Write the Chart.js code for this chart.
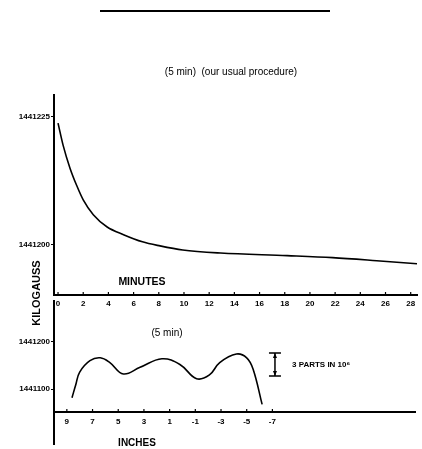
<!DOCTYPE html>
<html><head><meta charset="utf-8">
<script src="https://cdn.jsdelivr.net/npm/chart.js@4.4.1/dist/chart.umd.min.js"></script>
<style>
html,body{margin:0;padding:0;background:#fff;}
#wrap{position:relative;width:422px;height:449px;overflow:hidden;background:#fff;}
canvas{position:absolute;left:0;}
#c1{top:0;} #c2{top:295px;}
</style></head><body><div id="wrap">
<canvas id="c1" width="422" height="340"></canvas>
<canvas id="c2" width="422" height="154"></canvas>
</div>
<script>
// ---- data: field vs time (top panel) ----
const minutes = [0, 0.4, 0.95, 1.5, 2, 2.8, 3.9, 5.2, 6.7, 8.1, 9.9, 12.9, 18.2, 21.8, 25.3, 28.5];
const fieldVsTime = [1441223.8, 1441219.5, 1441215.0, 1441211.5, 1441208.8, 1441205.9, 1441203.5, 1441202.0, 1441200.6, 1441199.8, 1441199.0, 1441198.4, 1441197.9, 1441197.5, 1441196.9, 1441196.3];
const minuteTicks = [0, 2, 4, 6, 8, 10, 12, 14, 16, 18, 20, 22, 24, 26, 28];
const topYTicks = [1441200, 1441225];

// ---- data: field vs position (bottom panel) ----
const inches = [8.6, 8.3, 8.0, 7.2, 6.4, 5.65, 4.6, 3.3, 1.6, 0.2, -1.1, -2.1, -2.9, -4.2, -5.0, -5.5, -6.2];
const fieldVsPosition = [1441082, 1441110, 1441136, 1441160, 1441166, 1441156, 1441132, 1441146, 1441164, 1441152, 1441122, 1441130, 1441156, 1441174, 1441166, 1441142, 1441068];
const inchTicks = [9, 7, 5, 3, 1, -1, -3, -5, -7];
const bottomYTicks = [1441100, 1441200];
// scale marker: "3 PARTS IN 10^6"
const markerInch = -7.2;
const markerCenter = 1441152;
const markerHalfSpan = 24;

const tickFont = {family: '"Liberation Sans", Arial, sans-serif', size: 8, weight: 'bold'};
const FF = '"Liberation Sans", Arial, sans-serif';

const innerTicks = {
  id: 'innerTicks',
  afterDraw(chart) {
    const s = chart.scales.x, ctx = chart.ctx, y = chart.chartArea.bottom;
    ctx.save();
    ctx.strokeStyle = '#000'; ctx.lineWidth = 1.2;
    s.ticks.forEach(t => {
      const x = s.getPixelForValue(t.value);
      ctx.beginPath(); ctx.moveTo(x, y); ctx.lineTo(x, y - 3); ctx.stroke();
    });
    ctx.restore();
  }
};

const annotTop = {
  id: 'annotTop',
  afterDraw(chart) {
    const ctx = chart.ctx;
    ctx.save();
    ctx.strokeStyle = '#000'; ctx.lineWidth = 2;
    ctx.beginPath(); ctx.moveTo(100, 11); ctx.lineTo(330, 11); ctx.stroke();
    ctx.fillStyle = '#000';
    ctx.textAlign = 'center'; ctx.textBaseline = 'middle';
    ctx.font = '10px ' + FF;
    ctx.fillText('(5 min)  (our usual procedure)', 231, 72);
    ctx.font = 'bold 10.5px ' + FF;
    ctx.fillText('MINUTES', 142, 282);
    ctx.translate(36.5, 293);
    ctx.rotate(-Math.PI / 2);
    ctx.font = 'bold 11px ' + FF;
    ctx.fillText('KILOGAUSS', 0, 0);
    ctx.restore();
  }
};

const annotBottom = {
  id: 'annotBottom',
  afterDraw(chart) {
    const ctx = chart.ctx, ca = chart.chartArea;
    const xs = chart.scales.x, ys = chart.scales.y;
    ctx.save();
    ctx.strokeStyle = '#000'; ctx.fillStyle = '#000';
    // continue the vertical axis below the inches axis
    ctx.lineWidth = 2;
    ctx.beginPath(); ctx.moveTo(ca.left, ca.bottom); ctx.lineTo(ca.left, 150); ctx.stroke();
    // scale marker
    const mx = xs.getPixelForValue(markerInch);
    const y1 = ys.getPixelForValue(markerCenter + markerHalfSpan);
    const y2 = ys.getPixelForValue(markerCenter - markerHalfSpan);
    ctx.lineWidth = 1.5;
    ctx.beginPath();
    ctx.moveTo(mx - 6, y1); ctx.lineTo(mx + 6, y1);
    ctx.moveTo(mx - 6, y2); ctx.lineTo(mx + 6, y2);
    ctx.moveTo(mx, y1); ctx.lineTo(mx, y2);
    ctx.stroke();
    ctx.beginPath();
    ctx.moveTo(mx, y1); ctx.lineTo(mx - 2, y1 + 5); ctx.lineTo(mx + 2, y1 + 5); ctx.closePath();
    ctx.moveTo(mx, y2); ctx.lineTo(mx - 2, y2 - 5); ctx.lineTo(mx + 2, y2 - 5); ctx.closePath();
    ctx.fill();
    ctx.textAlign = 'left'; ctx.textBaseline = 'middle';
    ctx.font = 'bold 8px ' + FF;
    ctx.fillText('3 PARTS IN 10\u2076', mx + 17, (y1 + y2) / 2);
    ctx.textAlign = 'center';
    ctx.font = '10px ' + FF;
    ctx.fillText('(5 min)', 167, 38);
    ctx.font = 'bold 10px ' + FF;
    ctx.fillText('INCHES', 137, 148);
    ctx.restore();
  }
};

const axisBorder = {color: '#000', width: 2};

new Chart(document.getElementById('c1'), {
  type: 'line',
  data: {datasets: [{
    data: minutes.map((m, i) => ({x: m, y: fieldVsTime[i]})),
    borderColor: '#000', borderWidth: 1.6, pointRadius: 0,
    cubicInterpolationMode: 'monotone', fill: false
  }]},
  options: {
    responsive: false, animation: false, devicePixelRatio: 1,
    layout: {padding: {top: 95, left: 0, right: 5, bottom: 0}},
    plugins: {legend: {display: false}, tooltip: {enabled: false}, title: {display: false}},
    scales: {
      x: {
        type: 'linear', min: -0.32, max: 28.5,
        afterBuildTicks: s => { s.ticks = minuteTicks.map(v => ({value: v})); },
        afterFit: s => { s.height = 45; },
        grid: {display: true, drawOnChartArea: false, drawTicks: false},
        border: axisBorder,
        ticks: {padding: 4, font: tickFont, color: '#000', maxRotation: 0, autoSkip: false, callback: v => String(v)}
      },
      y: {
        type: 'linear', min: 1441190.2, max: 1441229.3,
        afterBuildTicks: s => { s.ticks = topYTicks.map(v => ({value: v})); },
        afterFit: s => { s.width = 54; },
        grid: {display: true, drawOnChartArea: false, drawTicks: true, tickLength: 3, color: '#000'},
        border: axisBorder,
        ticks: {padding: 1, font: tickFont, color: '#000', callback: v => String(v)}
      }
    }
  },
  plugins: [innerTicks, annotTop]
});

new Chart(document.getElementById('c2'), {
  type: 'line',
  data: {datasets: [{
    data: inches.map((u, i) => ({x: u, y: fieldVsPosition[i]})),
    borderColor: '#000', borderWidth: 1.6, pointRadius: 0,
    tension: 0.4, fill: false
  }]},
  options: {
    responsive: false, animation: false, devicePixelRatio: 1,
    layout: {padding: {top: 0, left: 0, right: 7, bottom: 0}},
    plugins: {legend: {display: false}, tooltip: {enabled: false}, title: {display: false}},
    scales: {
      x: {
        type: 'linear', reverse: true, min: -18.1, max: 10,
        afterBuildTicks: s => { s.ticks = inchTicks.map(v => ({value: v})); },
        afterFit: s => { s.height = 37; },
        grid: {display: true, drawOnChartArea: false, drawTicks: false},
        border: axisBorder,
        ticks: {padding: 5, font: tickFont, color: '#000', maxRotation: 0, autoSkip: false, callback: v => String(v)}
      },
      y: {
        type: 'linear', min: 1441052, max: 1441286,
        afterBuildTicks: s => { s.ticks = bottomYTicks.map(v => ({value: v})); },
        afterFit: s => { s.width = 54; },
        grid: {display: true, drawOnChartArea: false, drawTicks: true, tickLength: 3, color: '#000'},
        border: axisBorder,
        ticks: {padding: 1, font: tickFont, color: '#000', callback: v => String(v)}
      }
    }
  },
  plugins: [innerTicks, annotBottom]
});
</script>
</body></html>
